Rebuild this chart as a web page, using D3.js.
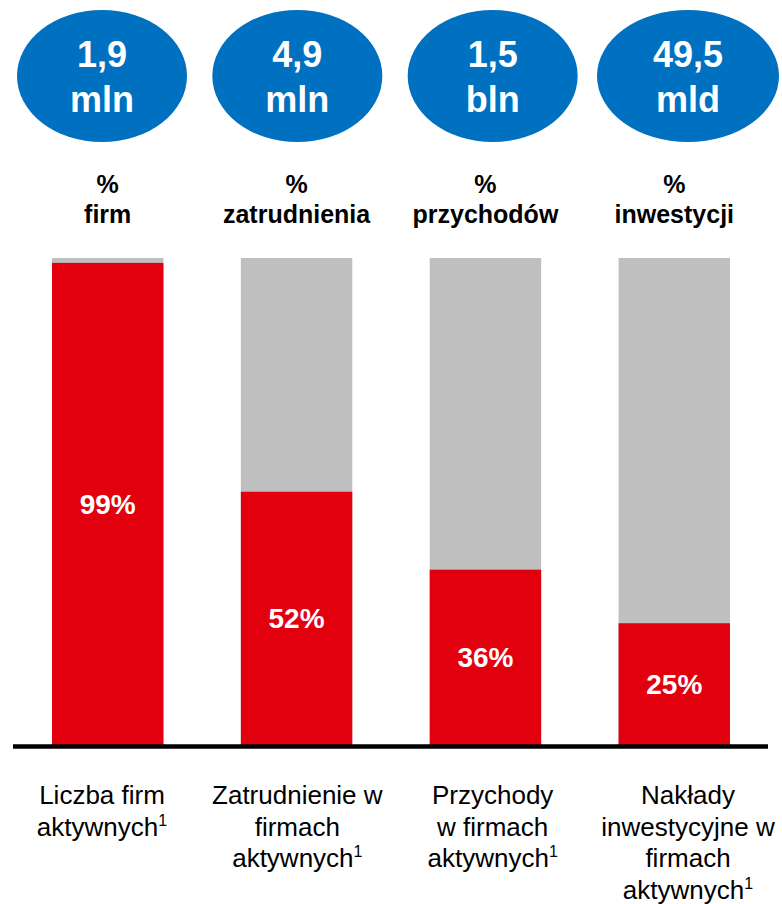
<!DOCTYPE html>
<html>
<head>
<meta charset="utf-8">
<script src="https://cdn.jsdelivr.net/npm/d3@7"></script>
<style>
  body { margin: 0; background: #fff; }
  svg { display: block; font-family: Arial, "Liberation Sans", sans-serif; }
</style>
</head>
<body>
<svg width="782" height="904"></svg>
<script>
"use strict";

const headers = ["firm", "zatrudnienia", "przychodów", "inwestycji"];
const totals = ["1,9", "4,9", "1,5", "49,5"];
const units = ["mln", "mln", "bln", "mld"];
const shares = [99, 52, 36, 25];
const descriptions = [
  ["Liczba firm", "aktywnych"],
  ["Zatrudnienie w", "firmach", "aktywnych"],
  ["Przychody", "w firmach", "aktywnych"],
  ["Nakłady", "inwestycyjne w", "firmach", "aktywnych"]
];

const svg = d3.select("svg");
const width = +svg.attr("width");

const blue = "#0070c0";
const red = "#e2000f";
const grey = "#bfbfbf";

const xScale = d3.scaleBand()
  .domain(headers)
  .range([52, 730])
  .paddingInner(0.41)
  .paddingOuter(0);

// ellipses and bottom captions sit on a slightly different grid
const capScale = d3.scalePoint()
  .domain(headers)
  .range([102, 688]);

const yScale = d3.scaleLinear()
  .domain([0, 100])
  .range([745, 258]);

// blue ellipses with totals
const bubbles = svg.append("g")
  .selectAll("g")
  .data(headers)
  .join("g")
  .attr("transform", d => `translate(${capScale(d)},76)`);

bubbles.append("ellipse")
  .attr("rx", (d, i) => i === 3 ? 91 : 85)
  .attr("ry", 66)
  .attr("fill", blue);

bubbles.append("text")
  .attr("text-anchor", "middle")
  .attr("y", -9)
  .attr("fill", "#fff")
  .style("font-weight", "bold")
  .style("font-size", "36px")
  .text((d, i) => totals[i]);

bubbles.append("text")
  .attr("text-anchor", "middle")
  .attr("y", 36)
  .attr("fill", "#fff")
  .style("font-weight", "bold")
  .style("font-size", "36px")
  .text((d, i) => units[i]);

// "% xxx" headers
const heads = svg.append("g")
  .selectAll("text")
  .data(headers)
  .join("text")
  .attr("text-anchor", "middle")
  .style("font-weight", "bold")
  .style("font-size", "25px")
  .attr("fill", "#000");

heads.append("tspan")
  .attr("x", d => xScale(d) + xScale.bandwidth() / 2)
  .attr("y", 193)
  .text("%");

heads.append("tspan")
  .attr("x", d => xScale(d) + xScale.bandwidth() / 2)
  .attr("y", 223)
  .text(d => d);

// grey full bars
svg.append("g")
  .selectAll("rect")
  .data(headers)
  .join("rect")
  .attr("x", d => xScale(d))
  .attr("y", yScale(100))
  .attr("width", xScale.bandwidth())
  .attr("height", yScale(0) - yScale(100))
  .attr("fill", grey);

// red share bars
svg.append("g")
  .selectAll("rect")
  .data(shares)
  .join("rect")
  .attr("x", (d, i) => xScale(headers[i]))
  .attr("y", d => yScale(d))
  .attr("width", xScale.bandwidth())
  .attr("height", d => yScale(0) - yScale(d))
  .attr("fill", red);

svg.append("g")
  .selectAll("text")
  .data(shares)
  .join("text")
  .attr("text-anchor", "middle")
  .attr("x", (d, i) => xScale(headers[i]) + xScale.bandwidth() / 2)
  .attr("y", d => (yScale(d) + yScale(0)) / 2)
  .attr("dy", "0.36em")
  .attr("fill", "#fff")
  .style("font-weight", "bold")
  .style("font-size", "28px")
  .text(d => d + "%");

// baseline
svg.append("line")
  .attr("x1", 13)
  .attr("x2", width - 14)
  .attr("y1", 746.5)
  .attr("y2", 746.5)
  .attr("stroke", "#000")
  .attr("stroke-width", 4.5);

// captions under bars
const caps = svg.append("g")
  .selectAll("text")
  .data(descriptions)
  .join("text")
  .attr("text-anchor", "middle")
  .attr("fill", "#000")
  .style("font-size", "26px");

caps.each(function(lines, i) {
  const t = d3.select(this);
  const cx = capScale(headers[i]);
  lines.forEach((line, j) => {
    t.append("tspan")
      .attr("x", cx)
      .attr("y", 804 + j * 31.5)
      .text(line);
    if (j === lines.length - 1) {
      t.append("tspan")
        .attr("dy", -10)
        .style("font-size", "16px")
        .text("1");
    }
  });
});
</script>
</body>
</html>
